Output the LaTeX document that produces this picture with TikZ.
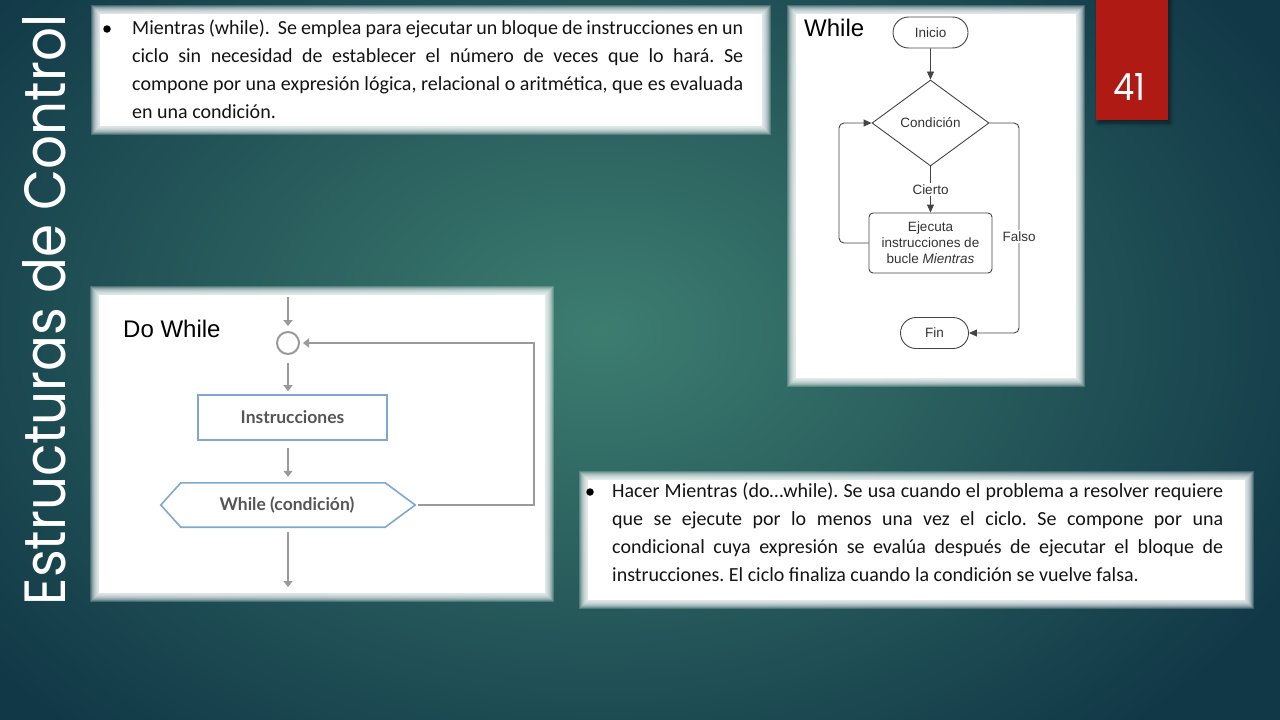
\documentclass[tikz,border=0pt]{standalone}
\usepackage{graphicx}
\usepackage{fontspec}
\setmainfont{Carlito}
\newfontfamily\arialf{Liberation Sans}
\newfontfamily\latof{Lato}
\newfontfamily\gothf{Poppins}
\usetikzlibrary{shapes.geometric,shapes.misc,arrows.meta,shadows.blur,calc}
\frenchspacing

\definecolor{bgdark}{HTML}{113847}
\definecolor{bglight}{HTML}{3D7D70}
\definecolor{slidered}{HTML}{B01A14}
\definecolor{flowgray}{HTML}{444444}
\definecolor{flowtext}{HTML}{333333}
\definecolor{dwgray}{HTML}{9A9A9A}
\definecolor{dwblue}{HTML}{7EA8CF}
\definecolor{dwtext}{HTML}{555555}
\definecolor{bodytext}{HTML}{141414}

% white panel with soft, feathered edges
\newcommand{\softpanel}[4]{%
  \foreach \k in {-4,-3,...,4}{%
    \fill[white,opacity=0.2] ({#1+\k},{#2+\k}) rectangle ({#3-\k},{#4-\k});}%
  \fill[white] ({#1+5},{#2+5}) rectangle ({#3-5},{#4-5});}

\tikzset{
  bodypar/.style={anchor=base west, inner sep=0, align=left, text=bodytext,
    font=\fontsize{20}{28}\selectfont},
  bulletdot/.style={circle, fill=black, minimum size=7.5pt, inner sep=0},
  wfont/.style={font=\arialf\fontsize{13.5}{16}\selectfont, text=flowtext},
  wterm/.style={rounded rectangle, draw=flowgray, line width=0.9pt,
    minimum width=75pt, minimum height=31pt, inner sep=0, fill=white, wfont},
  wdec/.style={diamond, draw=flowgray, line width=0.9pt, aspect=1.36,
    minimum width=117pt, minimum height=86pt, inner sep=0, fill=white, wfont},
  wproc/.style={rectangle, rounded corners=4pt, draw=flowgray, line width=0.9pt,
    minimum width=123pt, minimum height=60pt, align=center, fill=white, wfont},
  warr/.style={draw=flowgray, line width=0.9pt, -{Triangle[length=8pt,width=7pt]}},
  wlabel/.style={fill=white, inner sep=1.5pt, wfont},
  dwline/.style={draw=dwgray, line width=2.5pt},
  dwarr/.style={dwline, -{Triangle[length=6pt,width=9pt]}},
  dwtxt/.style={font=\latof\bfseries\fontsize{17.5}{20}\selectfont, text=dwtext},
  boxlabel/.style={font=\arialf\fontsize{24}{28}\selectfont, anchor=west, inner sep=0, text=black}
}

\begin{document}
\begin{tikzpicture}[x=1pt,y=-1pt]
\useasboundingbox (0,0) rectangle (1280,720);
\clip (0,0) rectangle (1280,720);

% background
\fill[bgdark] (0,0) rectangle (1280,720);
\shade[inner color=bglight, outer color=bgdark] (600,330) ellipse [x radius=780pt, y radius=540pt];

% side title
\node[rotate=90, text=white, inner sep=0] (title) at (44,310)
  {\resizebox{590pt}{43pt}{\gothf Estructuras de Control}};

% slide number tab
\fill[slidered, blur shadow={shadow xshift=2pt, shadow yshift=-3pt, shadow blur radius=4pt, shadow opacity=55}]
  (1096,-5) rectangle (1168,120);
\node[text=white, inner sep=0] (num) at (1129,86.5) {\resizebox{32pt}{27pt}{\gothf 41}};

% panels
\softpanel{95}{9}{767}{131}
\softpanel{791}{9}{1081}{383}
\softpanel{94}{290}{550}{598}
\softpanel{583}{475}{1250}{605}

% --- text: while (node anchored on the baseline of its last line)
\node[bulletdot] (b1) at (107,29) {};
\node[bodypar] (p1) at (132,118) {%
\hbox to 611pt{Mientras (while).\ \ Se emplea para ejecutar un bloque de instrucciones en un}\\
\hbox to 611pt{ciclo sin necesidad de establecer el número de veces que lo hará. Se}\\
\hbox to 611pt{compone por una expresión lógica, relacional o aritmética, que es evaluada}\\
en una condición.};

% --- text: do while
\node[bulletdot] (b2) at (590,492) {};
\node[bodypar] (p2) at (612,581) {%
\hbox to 611pt{Hacer Mientras (do…while). Se usa cuando el problema a resolver requiere}\\
\hbox to 611pt{que se ejecute por lo menos una vez el ciclo. Se compone por una}\\
\hbox to 611pt{condicional cuya expresión se evalúa después de ejecutar el bloque de}\\
instrucciones. El ciclo finaliza cuando la condición se vuelve falsa.};

% --- flowchart: while
\node[boxlabel] (wtitle) at (804,28) {While};
\node[wterm] (ini) at (930.5,32.5) {Inicio};
\node[wdec] (cnd) at (930.5,123) {Condición};
\node[wproc] (ejec) at (930.5,243) {Ejecuta\\instrucciones de\\bucle \textit{Mientras}};
\node[wterm, minimum width=68pt] (fin) at (934.5,333) {Fin};
\coordinate (lpl) at (839,243);
\coordinate (fcorner) at (1019,123);

\draw[warr] (ini) -- (cnd);
\draw[warr] (cnd) -- node[wlabel] (cierto) {Cierto} (ejec);
\draw[warr, rounded corners=5pt] (ejec.west) -- (lpl) |- (cnd.west);
\draw[warr, rounded corners=5pt] (cnd.east) -- (fcorner)
  -- node[wlabel, pos=0.54] (falso) {Falso} (fcorner |- fin.east) -- (fin.east);

% --- flowchart: do while
\node[boxlabel] (dwtitle) at (123,329) {Do While};
\coordinate (dwtop) at (288,297);
\node[circle, draw=dwgray, line width=2pt, minimum size=22pt, inner sep=0] (dwc) at (288,343) {};
\node[draw=dwblue, line width=1.6pt, minimum width=189pt, minimum height=45pt, dwtxt] (instr) at (292.5,417.5) {Instrucciones};
\node[minimum width=204pt, minimum height=44pt, inner sep=0, dwtxt] (dwcond) at (283,505) {\hspace*{8pt}While (condición)};
\draw[dwblue, line width=1.6pt] (dwcond.north west) -- (dwcond.north east) -- ([xshift=30pt]dwcond.east)
  -- (dwcond.south east) -- (dwcond.south west) -- ([xshift=-20pt]dwcond.west) -- cycle;
\coordinate (dwend) at (288,587);
\coordinate (dwloop) at (534,505);

\draw[dwarr, shorten >=5pt] (dwtop) -- (dwc.north);
\draw[dwarr, shorten <=8pt, shorten >=3pt] (dwc.south) -- (dwc.south |- instr.north);
\draw[dwarr, shorten <=7pt, shorten >=6pt] (dwc.south |- instr.south) -- (dwc.south |- dwcond.north);
\draw[dwarr, shorten <=5pt] (dwc.south |- dwcond.south) -- (dwend);
\draw[dwarr, shorten >=3pt] ([xshift=33pt]dwcond.east) -- (dwloop) |- (dwc.east);

\end{tikzpicture}
\end{document}
